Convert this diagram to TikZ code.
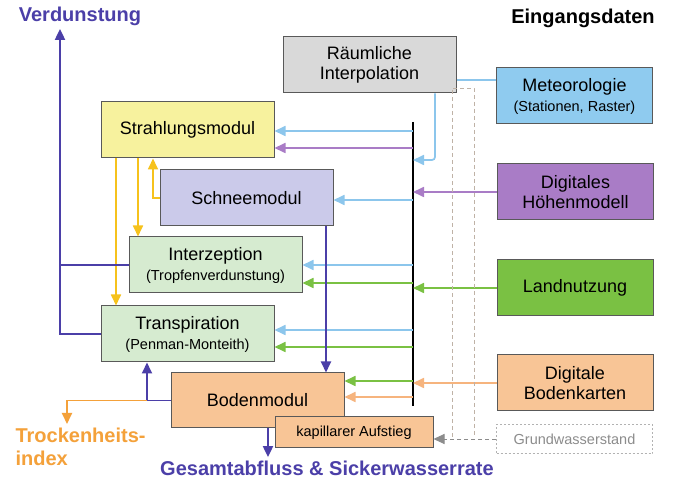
\documentclass[tikz,border=0pt]{standalone}
\usepackage{fontspec}
\setmainfont{Liberation Sans}
\usepackage{tikz}
\usetikzlibrary{arrows.meta,positioning}

\definecolor{dblau}{HTML}{4B3FA8}
\definecolor{hblau}{HTML}{8CC6EC}
\definecolor{lila}{HTML}{A97CC6}
\definecolor{gruen}{HTML}{7AC143}
\definecolor{pfirsich}{HTML}{F8C596}
\definecolor{pfirsichln}{HTML}{F6B47E}
\definecolor{gelb}{HTML}{F6C21C}
\definecolor{orangetext}{HTML}{F4A13A}
\definecolor{strahlfill}{HTML}{F7F29E}
\definecolor{schneefill}{HTML}{CBCAEA}
\definecolor{vegfill}{HTML}{D6EBD0}
\definecolor{interpfill}{HTML}{D9D9D9}
\definecolor{meteofill}{HTML}{8FCBEF}
\newcommand{\gross}{\fontsize{18}{20}\selectfont}
\newcommand{\klein}{\fontsize{14.5}{17}\selectfont}

\begin{document}
\begin{tikzpicture}[
    x=1pt, y=-1pt,
    modbox/.style={
        draw=black!65, line width=1pt,
        minimum width=173pt, minimum height=56pt,
        align=center, inner sep=1pt,
        font=\gross
    },
    inbox/.style={modbox, minimum width=156pt},
    titel/.style={font=\fontsize{20}{23}\selectfont\bfseries},
    tip/.style={-{Triangle[length=11pt,width=10pt]}},
    hblauln/.style={draw=hblau, line width=1.7pt},
    lilaln/.style={draw=lila, line width=1.7pt},
    gruenln/.style={draw=gruen, line width=1.7pt},
    pfirsichln/.style={draw=pfirsichln, line width=1.7pt},
    gelbln/.style={draw=gelb, line width=1.7pt},
    dblauln/.style={draw=dblau, line width=1.9pt},
    grundln/.style={draw=black!45, line width=0.9pt, dash pattern=on 4pt off 3pt}
]
\useasboundingbox[fill=white] (0,0) rectangle (673,481);

% Eingangsdaten
\node[titel] (eing) at (583,18) {Eingangsdaten};
\node[inbox, fill=interpfill, minimum width=173pt] (interp) at (369.5,65)
    {R\"aumliche\\Interpolation};
\node[inbox, fill=meteofill] (meteo) at (574.5,96)
    {Meteorologie\\{\klein (Stationen, Raster)}};
\node[inbox, fill=lila] (dhm) at (575.5,192) {Digitales\\H\"ohenmodell};
\node[inbox, fill=gruen] (landn) at (575,288) {Landnutzung};
\node[inbox, fill=pfirsich] (bodenk) at (575,383) {Digitale\\Bodenkarten};
\node[inbox, draw=black!30, dash pattern=on 2pt off 2pt, minimum height=29pt,
    text=black!45, font=\klein] (gw) at (574.5,439) {Grundwasserstand};

% Module
\node[modbox, fill=strahlfill] (strahl) at (187.5,130) {Strahlungsmodul};
\node[modbox, fill=schneefill] (schnee) at (246.5,198) {Schneemodul};
\node[modbox, fill=vegfill] (interz) at (215.5,265)
    {Interzeption\\{\klein (Tropfenverdunstung)}};
\node[modbox, fill=vegfill] (transp) at (187.5,334)
    {Transpiration\\{\klein (Penman-Monteith)}};
\node[modbox, fill=pfirsich, minimum height=55pt] (boden) at (257.5,400.5)
    {Bodenmodul};
\node[modbox, fill=pfirsich, minimum width=158pt, minimum height=31pt,
    font=\klein] (kap) at (354,432.5) {kapillarer Aufstieg};

% Ausgaben
\node[titel, text=dblau] (verd) at (80,16) {Verdunstung};
\node[titel, text=orangetext, align=left, anchor=north west] (trock) at (12,424)
    {Trockenheits-\\index};
\node[titel, text=dblau] (ges) at (327,468) {Gesamtabfluss \& Sickerwasserrate};

% Verteiler
\coordinate (bT) at (413,122);
\coordinate (bB) at (413,406);
\draw[line width=2.6pt] (bT) -- (bB);

\draw[hblauln] (meteo.west |- 0,80) -- (interp.east |- 0,80);
\draw[hblauln, tip, rounded corners=3pt] (interp.south -| 435,0) -- (435,160)
    -- (bT |- 0,160);
\draw[lilaln, tip] (dhm.west) -- (bT |- dhm.west);
\draw[gruenln, tip] (landn.west) -- (bT |- landn.west);
\draw[pfirsichln, tip] (bodenk.west) -- (bT |- bodenk.west);

\draw[hblauln, tip] (bT |- 0,131) -- (strahl.east |- 0,131);
\draw[lilaln, tip] (bT |- 0,148) -- (strahl.east |- 0,148);
\draw[hblauln, tip] (bT |- 0,200) -- (schnee.east |- 0,200);
\draw[hblauln, tip] (bT |- 0,265) -- (interz.east |- 0,265);
\draw[gruenln, tip] (bT |- 0,283) -- (interz.east |- 0,283);
\draw[hblauln, tip] (bT |- 0,330) -- (transp.east |- 0,330);
\draw[gruenln, tip] (bT |- 0,347) -- (transp.east |- 0,347);
\draw[gruenln, tip] (bT |- 0,381) -- (boden.east |- 0,381);
\draw[pfirsichln, tip] (bT |- 0,397) -- (boden.east |- 0,397);

% Grundwasser
\draw[grundln, tip] (gw.west) -- (kap.east |- gw.west);
\draw[grundln, draw=brown!50!black!40] (452,437) -- (452,88) -- (474,88) -- (474,437);

% Module untereinander
\draw[gelbln, tip] (strahl.south -| 116,0) -- (transp.north -| 116,0);
\draw[gelbln, tip] (strahl.south -| 138,0) -- (interz.north -| 138,0);
\draw[gelbln, tip] (schnee.west) -| (strahl.south -| 153,0);
\draw[dblauln, tip] (schnee.south -| 326,0) -- (boden.north -| 326,0);
\coordinate (knick) at (147,400.5);
\draw[dblauln, tip] (boden.west) -- (knick) -- (transp.south -| knick);
\draw[dblauln, tip] (transp.west) -| (verd.south -| 60,0);
\draw[dblauln] (interz.west) -- (interz.west -| 60,0);
\draw[draw=orangetext, line width=1.9pt, tip] (knick) -| (trock.north -| 67,0);
\draw[dblauln, tip] (boden.south -| 268,0) -- (ges.north -| 268,0);
\end{tikzpicture}
\end{document}
